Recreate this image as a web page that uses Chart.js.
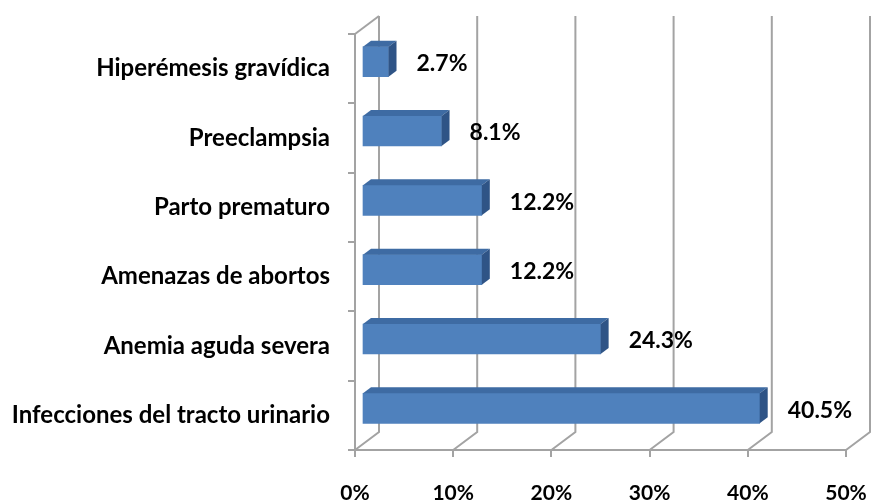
<!DOCTYPE html>
<html>
<head>
<meta charset="utf-8">
<script src="https://cdn.jsdelivr.net/npm/chart.js@4.4.0/dist/chart.umd.min.js"></script>
<style>
  html, body { margin: 0; padding: 0; background: #fff; }
  #wrap { width: 874px; height: 502px; }
</style>
</head>
<body>
<div id="wrap"><canvas id="complicChart"></canvas></div>
<script>
// Data
const categories = [
  "Hiperémesis gravídica",
  "Preeclampsia",
  "Parto prematuro",
  "Amenazas de abortos",
  "Anemia aguda severa",
  "Infecciones del tracto urinario"
];
const percentages = [2.7, 8.1, 12.2, 12.2, 24.3, 40.5];
const xTicks = [0, 10, 20, 30, 40, 50];

// 3D look
const WALL_DX = 24, WALL_DY = -18;   // depth of the back wall
const BAR_SHIFT_X = 7, BAR_SHIFT_Y = -7;
const BAR_DX = 8, BAR_DY = -6;       // depth of each bar
const gridColor = "#a3a3a3";
const fontFam = "Lato, 'Open Sans', sans-serif";

const wallsPlugin = {
  id: "walls",
  beforeDatasetsDraw(chart) {
    const c = chart.ctx, a = chart.chartArea, xs = chart.scales.x;
    c.save();
    c.strokeStyle = gridColor;
    c.lineWidth = 2;
    // back wall verticals + floor diagonals
    xTicks.forEach(v => {
      const x = xs.getPixelForValue(v);
      c.beginPath();
      c.moveTo(x, a.bottom);
      c.lineTo(x + WALL_DX, a.bottom + WALL_DY);
      c.lineTo(x + WALL_DX, a.top + WALL_DY);
      c.stroke();
    });
    // top edge of side wall
    c.beginPath();
    c.moveTo(a.left, a.top);
    c.lineTo(a.left + WALL_DX, a.top + WALL_DY);
    c.stroke();
    c.restore();

    // bars sit in the middle of the depth
    c.save();
    c.translate(BAR_SHIFT_X, BAR_SHIFT_Y);
  },
  afterDatasetsDraw(chart) {
    const c = chart.ctx;
    const meta = chart.getDatasetMeta(0);
    meta.data.forEach(bar => {
      const p = bar.getProps(["x", "y", "base", "height"], true);
      const top = p.y - p.height / 2, bot = p.y + p.height / 2;
      // top face
      c.fillStyle = "#3e6ba3";
      c.beginPath();
      c.moveTo(p.base, top);
      c.lineTo(p.base + BAR_DX, top + BAR_DY);
      c.lineTo(p.x + BAR_DX, top + BAR_DY);
      c.lineTo(p.x, top);
      c.closePath();
      c.fill();
      // side face
      c.fillStyle = "#2f5486";
      c.beginPath();
      c.moveTo(p.x, top);
      c.lineTo(p.x + BAR_DX, top + BAR_DY);
      c.lineTo(p.x + BAR_DX, bot + BAR_DY);
      c.lineTo(p.x, bot);
      c.closePath();
      c.fill();
    });
    c.restore();

    // value labels
    const xs = chart.scales.x;
    c.save();
    c.fillStyle = "#000";
    c.textBaseline = "middle";
    c.textAlign = "left";
    c.font = "bold 23px " + fontFam;
    meta.data.forEach((bar, i) => {
      const x = xs.getPixelForValue(percentages[i]) + BAR_SHIFT_X + BAR_DX + 20;
      const y = bar.y + BAR_SHIFT_Y + 2;
      c.fillText(percentages[i].toFixed(1) + "%", x, y);
    });
    c.restore();
  }
};

const ctx = document.getElementById("complicChart").getContext("2d");
const chart = new Chart(ctx, {
  type: "bar",
  data: {
    labels: categories,
    datasets: [{
      data: percentages,
      backgroundColor: "#4f81bd",
      borderWidth: 0,
      barThickness: 30
    }]
  },
  options: {
    indexAxis: "y",
    responsive: true,
    maintainAspectRatio: false,
    animation: false,
    layout: { padding: { top: 34, right: 28, left: 0, bottom: 0 } },
    plugins: {
      legend: { display: false },
      tooltip: { enabled: false }
    },
    scales: {
      x: {
        min: 0,
        max: 50,
        afterFit: s => { s.height = 52; s.paddingLeft = 0; s.paddingRight = 0; },
        ticks: {
          stepSize: 10,
          color: "#000",
          padding: 26,
          font: { family: fontFam, size: 21, weight: "bold", lineHeight: 1 },
          callback: v => v + "%"
        },
        grid: {
          drawOnChartArea: false,
          color: gridColor,
          lineWidth: 2,
          tickLength: 7
        },
        border: { color: gridColor, width: 2 }
      },
      y: {
        afterFit: s => { s.width = 355; },
        ticks: {
          color: "#000",
          padding: 18,
          font: { family: fontFam, size: 24, weight: "bold" }
        },
        grid: {
          drawOnChartArea: false,
          color: gridColor,
          lineWidth: 2,
          tickLength: 7
        },
        border: { color: gridColor, width: 2 }
      }
    }
  },
  plugins: [wallsPlugin]
});
</script>
</body>
</html>
